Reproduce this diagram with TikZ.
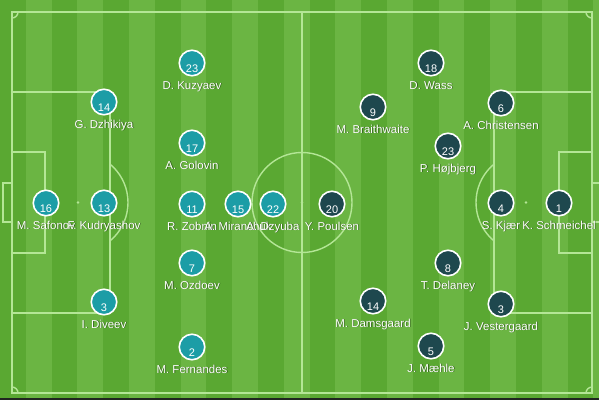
\documentclass[tikz,border=0pt]{standalone}
\usepackage{fontspec}
\setmainfont{Liberation Sans}
\definecolor{grdark}{RGB}{90,168,50}
\definecolor{grlight}{RGB}{107,181,67}
\definecolor{pline}{RGB}{180,230,150}
\definecolor{teamru}{RGB}{28,157,166}
\definecolor{teamdk}{RGB}{30,72,78}
\definecolor{barcol}{RGB}{32,38,32}
\tikzset{
  pitchline/.style={draw=pline, line width=1.4pt},
  plru/.style={circle, fill=teamru, draw=white, line width=1.6pt, minimum size=25.5pt, inner sep=0pt},
  pldk/.style={circle, fill=teamdk, draw=white, line width=1.6pt, minimum size=25.5pt, inner sep=0pt},
  numtxt/.style={anchor=base, inner sep=0pt, text=white, font=\fontsize{11}{12}\selectfont},
  lbl/.style={anchor=base, inner sep=0pt, text=white, font=\fontsize{11.5}{13}\selectfont},
  lblsh/.style={anchor=base, inner sep=0pt, text=black, text opacity=0.4, font=\fontsize{11.5}{13}\selectfont},
}
\newcommand\plr[6]{%
  \node[#1] (#2) at (#3,#4) {};
  \node[numtxt] (#2-n) at (#3,#4+9) {#5};
  \node[lblsh] (#2-s) at (#3+0.8,#4+26.8) {#6};
  \node[lbl] (#2-l) at (#3,#4+26) {#6};
}
\begin{document}
\begin{tikzpicture}[x=1pt,y=-1pt]
\useasboundingbox (0,0) rectangle (599,400);
% stripes
\foreach \i in {0,...,23} {
  \ifodd\i
    \fill[grlight] ({25.8*\i},0) rectangle ({25.8*\i+25.9},400);
  \else
    \fill[grdark] ({25.8*\i},0) rectangle ({25.8*\i+25.9},400);
  \fi
}
% pitch markings
\draw[pitchline] (12,12) rectangle (592,393);
\draw[pitchline] (302,12) -- (302,393);
\draw[pitchline] (302,202.5) circle (50);
\fill[pline] (302,202.5) circle (1.3);
\draw[pitchline] (12,92) rectangle (110,313);
\draw[pitchline] (494,92) rectangle (592,313);
\draw[pitchline] (12,152) rectangle (45,253);
\draw[pitchline] (559,152) rectangle (592,253);
\draw[pitchline] (3,183) rectangle (12,222);
\draw[pitchline] (592,183) rectangle (601,222);
\fill[pline] (78,202.5) circle (1.3);
\fill[pline] (526,202.5) circle (1.3);
\begin{scope}
  \clip (110,0) rectangle (200,400);
  \draw[pitchline] (78,202.5) circle (50);
\end{scope}
\begin{scope}
  \clip (400,0) rectangle (494,400);
  \draw[pitchline] (526,202.5) circle (50);
\end{scope}
\begin{scope}
  \clip (12,12) rectangle (592,393);
  \draw[pitchline] (12,12) circle (6);
  \draw[pitchline] (592,12) circle (6);
  \draw[pitchline] (12,393) circle (6);
  \draw[pitchline] (592,393) circle (6);
\end{scope}
\fill[barcol] (0,397.5) rectangle (599,400);
% Russia
\plr{plru}{kuz}{192}{63}{23}{D. Kuzyaev}
\plr{plru}{dzh}{104}{102}{14}{G. Dzhikiya}
\plr{plru}{gol}{192}{143}{17}{A. Golovin}
\plr{plru}{saf}{46}{203}{16}{M. Safonov}
\plr{plru}{kud}{104}{203}{13}{F. Kudryashov}
\plr{plru}{zob}{192}{204}{11}{R. Zobnin}
\plr{plru}{mir}{238}{204}{15}{A. Miranchuk}
\plr{plru}{dzy}{273}{204}{22}{A. Dzyuba}
\plr{plru}{ozd}{192}{263}{7}{M. Ozdoev}
\plr{plru}{div}{104}{302}{3}{I. Diveev}
\plr{plru}{fer}{192}{347}{2}{M. Fernandes}
% Denmark
\plr{pldk}{pou}{332}{204}{20}{Y. Poulsen}
\plr{pldk}{was}{431}{63}{18}{D. Wass}
\plr{pldk}{chr}{501}{103}{6}{A. Christensen}
\plr{pldk}{bra}{373}{107}{9}{M. Braithwaite}
\plr{pldk}{hoj}{448}{146}{23}{P. Højbjerg}
\plr{pldk}{kja}{501}{203}{4}{S. Kjær}
\plr{pldk}{sch}{559}{203}{1}{K. Schmeichel}
\plr{pldk}{del}{448}{263}{8}{T. Delaney}
\plr{pldk}{dam}{373}{301}{14}{M. Damsgaard}
\plr{pldk}{ves}{501}{304}{3}{J. Vestergaard}
\plr{pldk}{mae}{431}{346}{5}{J. Mæhle}
\end{tikzpicture}
\end{document}
